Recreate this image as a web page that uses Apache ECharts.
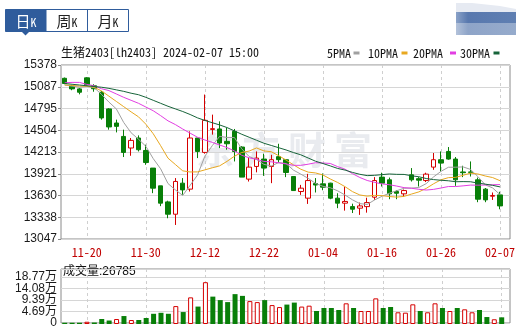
<!DOCTYPE html>
<html><head><meta charset="utf-8">
<script src="https://cdn.jsdelivr.net/npm/echarts@6/dist/echarts.min.js"></script>
<style>html,body{margin:0;padding:0;background:#fff}#c{width:518px;height:329px}</style>
</head><body><div id="c"></div>
<script>
// ---------- data ----------
const dates = ['11-15','11-16','11-17','11-20','11-21','11-22','11-23','11-24','11-27','11-28','11-29','11-30',
 '12-01','12-04','12-05','12-06','12-07','12-08','12-11','12-12','12-13','12-14','12-15','12-18','12-19','12-20','12-21','12-22',
 '12-25','12-26','12-27','12-28','12-29','01-02','01-03','01-04','01-05','01-08','01-09','01-10','01-11','01-12','01-15','01-16',
 '01-17','01-18','01-19','01-22','01-23','01-24','01-25','01-26','01-29','01-30','01-31','02-01','02-02','02-05','02-06','02-07'];
const openP  = [15200,15093,15058,15206,15100,15013,14790,14601,14421,14266,14400,14233,13997,13759,13544,13379,13795,13715,14400,14207,
 14515,14521,14355,14489,14279,13849,14019,14118,14019,14150,14109,13884,13683,13594,13790,13786,13795,13594,13527,13481,
 13460,13481,13607,13876,13840,13683,13652,13907,13855,13830,14010,14109,14220,14118,13945,13945,13840,13715,13620,13638];
const closeP = [15130,15058,15013,15116,15060,14669,14548,14556,14207,14368,14243,14072,13728,13527,13379,13818,13705,14400,14220,14636,
 14525,14333,14323,14220,13876,14010,14131,13997,14109,14110,13938,13696,13728,13830,13770,13741,13594,13527,13550,13446,
 13490,13535,13830,13795,13652,13660,13696,13840,13835,13916,14109,14064,14118,13840,13935,13940,13580,13571,13630,13490];
const lowP   = [15120,15040,14985,15100,15020,14646,14512,14475,14145,14162,14220,14041,13661,13487,13325,13235,13640,13683,14131,14190,
 14445,14265,14243,14086,13876,13817,13940,13893,13795,14064,13876,13696,13638,13517,13670,13700,13580,13460,13427,13395,
 13370,13400,13571,13750,13580,13580,13610,13817,13750,13810,13974,13951,14109,13759,13876,13884,13540,13540,13570,13445];
const highP  = [15210,15110,15070,15215,15120,15030,14800,14646,14512,14400,14435,14310,13997,13759,13560,13863,13863,14489,14400,14982,
 14713,14623,14534,14521,14290,14131,14220,14190,14175,14323,14115,13884,13772,13920,13863,13925,13800,13660,13745,13520,
 13535,13600,13876,13935,13870,13700,13710,13997,13876,13935,14199,14220,14279,14145,14028,14086,13870,13730,13670,13680];
const volume = [5000,5000,5000,9000,6000,20000,14000,20000,32000,16000,16000,24000,41000,45000,41000,72000,48000,107000,70000,168000,
 110000,96000,88000,120000,113000,92000,88000,96000,76000,68000,78000,86000,70000,73600,52200,64300,64300,56300,83100,64300,
 52200,52200,103000,64300,68300,47000,45500,79000,52200,47000,83100,64300,52200,64300,59000,47000,56300,28000,19000,26785];
const volUp  = [0,0,0,1,0,0,0,1,0,1, 0,0,0,0,0,1,0,1,0,1, 0,0,0,0,0,1,1,0,1,1, 0,0,1,1,0,0,0,0,1,0, 1,1,1,0,0,1,1,1,0,1, 1,0,1,0,1,1,0,0,1,0];
const ma5  = [15110,15095,15080,15090,15075,14983,14881,14790,14608,14470,14384,14289,14124,13988,13790,13705,13631,13766,13904,14156,
 14297,14423,14407,14407,14255,14152,14112,14047,14025,14071,14057,13970,13916,13860,13792,13753,13733,13692,13636,13572,
 13521,13510,13570,13619,13660,13694,13727,13729,13737,13789,13879,13953,14008,14009,14013,13979,13883,13773,13731,13642];
const ma10 = [15110,15105,15095,15095,15080,15030,14960,14890,14820,14750,14684,14585,14457,14298,14130,14045,13960,13945,13946,13973,
 14001,14027,14087,14156,14206,14225,14267,14227,14216,14163,14105,14041,13982,13943,13932,13905,13851,13804,13748,13682,
 13637,13621,13631,13628,13616,13608,13618,13649,13678,13725,13787,13840,13869,13873,13901,13929,13918,13891,13870,13828];
const ma20 = [15140,15145,15145,15118,15100,15060,15035,14990,14945,14905,14865,14815,14765,14700,14630,14580,14520,14465,14410,14373,
 14342,14306,14272,14227,14168,14135,14114,14086,14081,14068,14053,14034,14034,14049,14069,14065,14059,14016,13982,13923,
 13871,13831,13806,13785,13774,13756,13735,13727,13713,13703,13712,13730,13750,13750,13759,13769,13768,13770,13774,13776];
const ma30 = [15130,15120,15110,15100,15090,15080,15065,15045,15025,15000,14980,14945,14905,14865,14825,14790,14755,14715,14670,14635,
 14605,14575,14540,14495,14450,14410,14370,14330,14300,14270,14240,14205,14175,14132,14089,14058,14026,13992,13970,13939,
 13914,13896,13900,13909,13918,13913,13912,13894,13881,13857,13843,13834,13827,13814,13816,13814,13796,13782,13766,13745];
const priceTicks = [13047,13338,13630,13921,14213,14504,14795,15087,15378];
const volTickVals = [0,46925,93850,140775,187700];
const volTickLabels = ['0','4.69万','9.39万','14.08万','18.77万'];
const xTicks = ['11-20','11-30','12-12','12-22','01-04','01-16','01-26','02-07'];
const legendNames = ['5PMA','10PMA','20PMA','30PMA'];
const titleText = '生猪2403[lh2403] 2024-02-07 15:00';
const volTitle = '成交量:26785';
const tabs = ['日','周','月'];

// ---------- styles ----------
const UP = '#d50000', DN = '#087f08';
const FRAME = '#8a8a8a', GRIDC = '#d6d6d6', DASH = '#cfcfcf';
const LINEC = ['#a0a0a0', '#e8a820', '#e23ee2', '#17643a'];
const MONO = '"Noto Sans Mono CJK SC","Noto Sans Mono CJK JP","DejaVu Sans Mono",monospace';
const SANS = '"Liberation Sans","Noto Sans CJK SC",sans-serif';
const CJK = '"Noto Sans CJK SC",sans-serif';
const BLUE = '#2f5c9c';

const pMin = priceTicks[0], pMax = priceTicks[priceTicks.length - 1];
const pStep = (pMax - pMin) / (priceTicks.length - 1);
const vStep = volTickVals[1];
const VOL_TOP = 221000;
const candleW = 444.4;

const candleData = dates.map((d, i) => [openP[i], closeP[i], lowP[i], highP[i]]);
const volData = volume.map((v, i) => ({
  value: v,
  itemStyle: volUp[i] ? { color: '#fff', borderColor: UP, borderWidth: 1 } : { color: DN, borderColor: DN, borderWidth: 0 }
}));
const isTick = (i, v) => xTicks.indexOf(v) >= 0;
const volLabel = v => { const k = volTickVals.indexOf(Math.round(v)); return k >= 0 ? volTickLabels[k] : ''; };

const graphic = [];
// watermark
['东', '方', '财', '富'].forEach((ch, k) => graphic.push({
  type: 'text', z: -10, left: 196 + k * 46, top: 131,
  style: { text: ch, font: 'bold 38px ' + CJK, fill: '#e9ebef' }
}));
// tabs
graphic.push({ type: 'rect', shape: { x: 5.5, y: 9.5, width: 123, height: 22 }, style: { fill: '#fff', stroke: BLUE, lineWidth: 1 } });
graphic.push({ type: 'rect', shape: { x: 5.5, y: 9.5, width: 41, height: 22 }, style: { fill: BLUE } });
graphic.push({ type: 'line', shape: { x1: 87.5, y1: 9.5, x2: 87.5, y2: 31.5 }, style: { stroke: BLUE, lineWidth: 1 } });
graphic.push({ type: 'polygon', shape: { points: [[21, 31], [30, 31], [25.5, 35.5]] }, style: { fill: BLUE } });
tabs.forEach((t, k) => graphic.push({
  type: 'text', x: 26 + k * 41, y: 21,
  style: { text: '{a|' + t + '}{b|K}', align: 'center', verticalAlign: 'middle',
    rich: { a: { font: '15px ' + CJK, fill: k === 0 ? '#fff' : '#222' }, b: { font: '12px ' + MONO, fill: k === 0 ? '#fff' : '#222', padding: [3, 0, 0, 0] } } }
}));
// blurred logo, top right
graphic.push({ type: 'polygon', shape: { points: [[456, 3], [472, 3], [500, 6], [516, 9], [516, 12], [456, 12]] }, style: { fill: '#e6eaf2' } });
graphic.push({ type: 'rect', shape: { x: 456, y: 12, width: 60, height: 11 }, style: { fill: { type: 'linear', x: 0, y: 0, x2: 1, y2: 0, colorStops: [{ offset: 0, color: '#8aa2c8' }, { offset: 0.2, color: '#5878ae' }, { offset: 1, color: '#5f7fb2' }] } } });
graphic.push({ type: 'rect', shape: { x: 456, y: 23, width: 60, height: 12 }, style: { fill: { type: 'linear', x: 0, y: 0, x2: 1, y2: 0, colorStops: [{ offset: 0, color: '#b3c2da' }, { offset: 0.2, color: '#8ea4c8' }, { offset: 1, color: '#96abcc' }] } } });
// title
graphic.push({ type: 'text', x: 61, y: 52, style: { text: titleText, font: '12px ' + MONO, fill: '#111', verticalAlign: 'middle' } });
// legend
const legX = [327, 368, 413, 460], legSq = [353.5, 401.5, 450, 493.5];
legendNames.forEach((n, k) => {
  graphic.push({ type: 'text', x: legX[k], y: 53, style: { text: n, font: '12px ' + MONO, fill: '#111', verticalAlign: 'middle' } });
  graphic.push({ type: 'rect', shape: { x: legSq[k], y: 51.5, width: 6, height: 3 }, style: { fill: LINEC[k] } });
});
// volume title
graphic.push({ type: 'text', x: 63, y: 272, style: { text: volTitle, font: '12px ' + SANS, fill: '#111', verticalAlign: 'middle' } });

const dashSplit = { show: true, interval: isTick, alignWithLabel: true, lineStyle: { color: DASH, type: [3, 3], width: 1 } };
const volLabelStyle = { margin: 4, color: '#1a1a1a', fontFamily: SANS, fontSize: 12 };

const option = {
  animation: false,
  backgroundColor: '#fff',
  grid: [
    { left: 61, top: 65, right: 8, height: 174, show: true, borderColor: FRAME, borderWidth: 1, backgroundColor: 'rgba(0,0,0,0)' },
    { left: 61, top: 65, width: candleW, height: 174 },
    { left: 61, top: 269, right: 8, height: 55, show: true, borderColor: FRAME, borderWidth: 1, backgroundColor: 'rgba(0,0,0,0)' },
    { left: 61, top: 269, width: candleW, height: 55 }
  ],
  xAxis: [
    { gridIndex: 0, type: 'value', min: 0, max: 1, show: false },
    { gridIndex: 1, type: 'category', data: dates, boundaryGap: true,
      axisLine: { show: false }, axisTick: { show: false },
      axisLabel: { interval: isTick, color: '#c00000', fontFamily: MONO, fontSize: 12, margin: 7 },
      splitLine: dashSplit },
    { gridIndex: 2, type: 'value', min: 0, max: 1, show: false },
    { gridIndex: 3, type: 'category', data: dates, boundaryGap: true,
      axisLine: { show: false }, axisTick: { show: false }, axisLabel: { show: false },
      splitLine: dashSplit }
  ],
  yAxis: [
    { gridIndex: 0, type: 'value', min: pMin, max: pMax, interval: pStep,
      axisLine: { show: false }, axisTick: { show: true, length: 3, lineStyle: { color: FRAME } },
      axisLabel: { margin: 4, color: '#1a1a1a', fontFamily: SANS, fontSize: 12, showMinLabel: true, showMaxLabel: true,
        formatter: v => { let b = priceTicks[0]; priceTicks.forEach(t => { if (Math.abs(t - v) < Math.abs(b - v)) b = t; }); return String(b); } },
      splitLine: { show: true, lineStyle: { color: GRIDC, width: 1 } } },
    { gridIndex: 1, type: 'value', min: pMin, max: pMax, show: false },
    // volume axis: labels above zero + split lines
    { gridIndex: 2, type: 'value', min: 0, max: VOL_TOP, interval: vStep,
      axisLine: { show: false }, axisTick: { show: false },
      axisLabel: Object.assign({ showMinLabel: false, formatter: v => (v === 0 ? '' : volLabel(v)) }, volLabelStyle),
      splitLine: { show: true, lineStyle: { color: GRIDC, width: 1 } } },
    { gridIndex: 3, type: 'value', min: 0, max: VOL_TOP, show: false },
    // volume axis: the zero label
    { gridIndex: 2, type: 'value', min: 0, max: VOL_TOP, interval: vStep, position: 'left', offset: 0,
      axisLine: { show: false }, axisTick: { show: false }, splitLine: { show: false },
      axisLabel: Object.assign({ showMinLabel: true, formatter: v => (v === 0 ? volTickLabels[0] : '') }, volLabelStyle) }
  ],
  graphic: graphic,
  series: [
    { type: 'candlestick', name: 'K', xAxisIndex: 1, yAxisIndex: 1, data: candleData, barWidth: 5,
      itemStyle: { color: '#fff', color0: DN, borderColor: UP, borderColor0: DN, borderColorDoji: UP, borderWidth: 1 } },
    ...[ma5, ma10, ma20, ma30].map((d, k) => ({
      type: 'line', name: legendNames[k], xAxisIndex: 1, yAxisIndex: 1, data: d, symbol: 'none', smooth: false,
      lineStyle: { color: LINEC[k], width: 1 }, z: 3
    })),
    { type: 'bar', name: 'VOL', xAxisIndex: 3, yAxisIndex: 3, data: volData, barWidth: 5 }
  ]
};
const chart = echarts.init(document.getElementById('c'));
chart.setOption(option);
</script>
</body></html>
